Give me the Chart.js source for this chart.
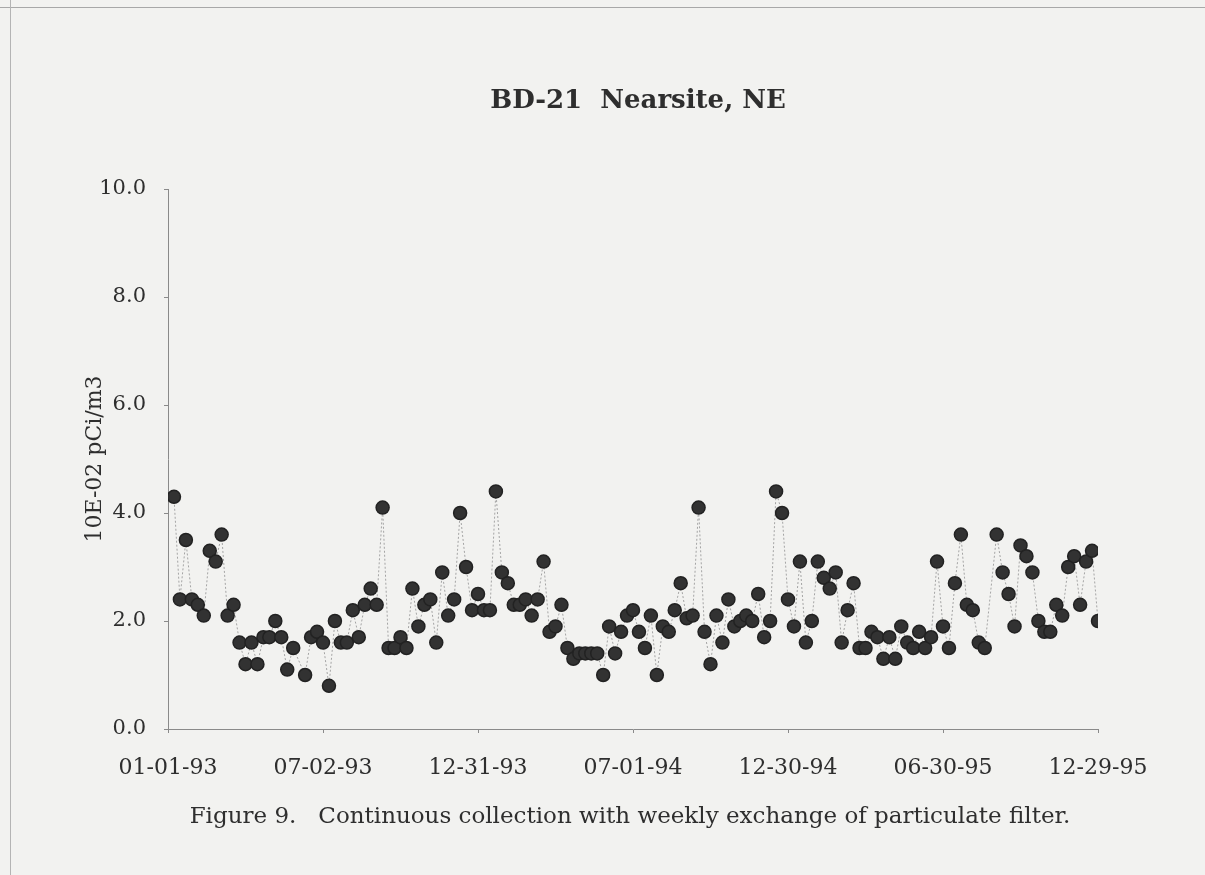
<!DOCTYPE html>
<html>
<head>
<meta charset="utf-8">
<title>BD-21 Nearsite, NE</title>
<script src="https://cdn.jsdelivr.net/npm/chart.js@4.4.1/dist/chart.umd.min.js"></script>
<style>
    body { margin: 0; background: #f2f2f0; }
    #page { position: relative; width: 1205px; height: 875px; background: #f2f2f0; overflow: hidden; }
    #page .edge-top { position: absolute; left: 0; top: 7px; width: 1205px; border-top: 1px solid #a8a8a8; }
    #page .edge-left { position: absolute; left: 10px; top: 0; height: 875px; border-left: 1px solid #b4b4b4; }
    #chart { position: absolute; left: 0; top: 0; }
    .label { position: absolute; transform: translate(-50%, -50%); white-space: pre; color: #2e2e2e; font-family: "DejaVu Serif", serif; }
    #title { left: 638px; top: 99px; font-size: 26px; font-weight: bold; }
    #caption { left: 630px; top: 815px; font-size: 23px; }
</style>
</head>
<body>
<div id="page">
    <div class="edge-top"></div>
    <div class="edge-left"></div>
    <canvas id="chart" width="1205" height="875"></canvas>
    <div id="title" class="label">BD-21  Nearsite, NE</div>
    <div id="caption" class="label">Figure 9.   Continuous collection with weekly exchange of particulate filter.</div>
</div>
<script>
    // weekly results, 10E-02 pCi/m3, first value is week 1 (01-08-93); null = no sample
    const firstWeek = 1;
    const values = [
        4.3, 2.4, 3.5, 2.4, 2.3, 2.1, 3.3, 3.1, 3.6, 2.1,
        2.3, 1.6, 1.2, 1.6, 1.2, 1.7, 1.7, 2.0, 1.7, 1.1,
        1.5, null, 1.0, 1.7, 1.8, 1.6, 0.8, 2.0, 1.6, 1.6,
        2.2, 1.7, 2.3, 2.6, 2.3, 4.1, 1.5, 1.5, 1.7, 1.5,
        2.6, 1.9, 2.3, 2.4, 1.6, 2.9, 2.1, 2.4, 4.0, 3.0,
        2.2, 2.5, 2.2, 2.2, 4.4, 2.9, 2.7, 2.3, 2.3, 2.4,
        2.1, 2.4, 3.1, 1.8, 1.9, 2.3, 1.5, 1.3, 1.4, 1.4,
        1.4, 1.4, 1.0, 1.9, 1.4, 1.8, 2.1, 2.2, 1.8, 1.5,
        2.1, 1.0, 1.9, 1.8, 2.2, 2.7, 2.05, 2.1, 4.1, 1.8,
        1.2, 2.1, 1.6, 2.4, 1.9, 2.0, 2.1, 2.0, 2.5, 1.7,
        2.0, 4.4, 4.0, 2.4, 1.9, 3.1, 1.6, 2.0, 3.1, 2.8,
        2.6, 2.9, 1.6, 2.2, 2.7, 1.5, 1.5, 1.8, 1.7, 1.3,
        1.7, 1.3, 1.9, 1.6, 1.5, 1.8, 1.5, 1.7, 3.1, 1.9,
        1.5, 2.7, 3.6, 2.3, 2.2, 1.6, 1.5, null, 3.6, 2.9,
        2.5, 1.9, 3.4, 3.2, 2.9, 2.0, 1.8, 1.8, 2.3, 2.1,
        3.0, 3.2, 2.3, 3.1, 3.3, 2.0
    ];
    const tickLabels = ['01-01-93', '07-02-93', '12-31-93', '07-01-94', '12-30-94', '06-30-95', '12-29-95'];
    const weeksPerTick = 26;
    const yMax = 10;
    const yStep = 2;

    const points = values.map((v, i) => ({ x: firstWeek + i, y: v }));

    const textColor = '#2e2e2e';
    const axisColor = '#8a8a8a';

    const ctx = document.getElementById('chart').getContext('2d');
    new Chart(ctx, {
        type: 'line',
        data: {
            datasets: [{
                data: points,
                borderColor: '#a4a4a4',
                borderWidth: 1,
                borderDash: [2, 2],
                tension: 0,
                spanGaps: true,
                pointRadius: 6.5,
                pointBackgroundColor: '#323232',
                pointBorderColor: '#222222',
                pointBorderWidth: 1.5
            }]
        },
        options: {
            responsive: false,
            animation: false,
            layout: { padding: { left: 78, right: 107, top: 189, bottom: 86 } },
            plugins: {
                legend: { display: false },
                tooltip: { enabled: false }
            },
            scales: {
                x: {
                    type: 'linear',
                    min: 0,
                    max: weeksPerTick * (tickLabels.length - 1),
                    afterFit: function(scale) { scale.height = 60; },
                    ticks: {
                        stepSize: weeksPerTick,
                        autoSkip: false,
                        maxRotation: 0,
                        padding: 22,
                        color: textColor,
                        font: { family: 'DejaVu Serif', size: 22 },
                        callback: function(v) { return tickLabels[Math.round(v / weeksPerTick)]; }
                    },
                    grid: { drawOnChartArea: false, tickLength: 4, color: axisColor },
                    border: { color: axisColor, width: 1 }
                },
                y: {
                    min: 0,
                    max: yMax,
                    afterFit: function(scale) { scale.width = 90; },
                    ticks: {
                        stepSize: yStep,
                        padding: 18,
                        color: textColor,
                        font: { family: 'DejaVu Serif', size: 21 },
                        callback: function(v) { return v.toFixed(1); }
                    },
                    grid: { drawOnChartArea: false, tickLength: 4, color: axisColor },
                    border: { color: axisColor, width: 1 },
                    title: {
                        display: true,
                        text: '10E-02 pCi/m3',
                        color: textColor,
                        font: { family: 'DejaVu Serif', size: 22 },
                        padding: { top: 4, bottom: 4 }
                    }
                }
            }
        }
    });
</script>
</body>
</html>
